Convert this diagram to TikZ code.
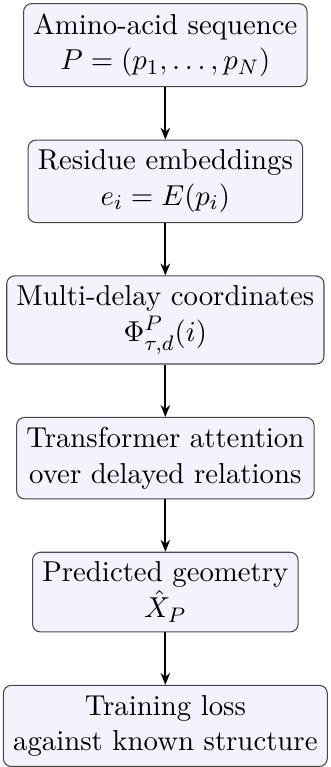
\documentclass[tikz,border=0pt,11pt]{standalone}
\usepackage{amsmath,amssymb}
\usepackage{tikz}
\usetikzlibrary{arrows.meta,positioning}
\definecolor{boxfill}{RGB}{243,243,253}
\definecolor{boxline}{RGB}{70,70,70}

\begin{document}
\begin{tikzpicture}[
box/.style={rectangle,rounded corners=3pt,draw=boxline,fill=boxfill,align=center,inner sep=3.7pt},
arr/.style={-{Stealth[length=4.5pt,width=3.6pt]},thick},node distance=7mm]
\node[box] (seq) {Amino-acid sequence\\$P=(p_1,\dots,p_N)$};
\node[box,below=of seq] (emb) {Residue embeddings\\$e_i=E(p_i)$};
\node[box,below=of emb] (delay) {Multi-delay coordinates\\$\Phi^{P}_{\tau,d}(i)$};
\node[box,below=of delay] (att) {Transformer attention\\over delayed relations};
\node[box,below=of att] (geo) {Predicted geometry\\$\hat{X}_P$};
\node[box,below=of geo] (loss) {Training loss\\against known structure};
\draw[arr] (seq) -- (emb);
\draw[arr] (emb) -- (delay);
\draw[arr] (delay) -- (att);
\draw[arr] (att) -- (geo);
\draw[arr] (geo) -- (loss);
% crop as in the original
\useasboundingbox ([xshift=-1.1pt,yshift=1.2pt]seq.north -| loss.west) rectangle ([xshift=1.1pt,yshift=1pt]loss.south -| loss.east);
\end{tikzpicture}
\end{document}
